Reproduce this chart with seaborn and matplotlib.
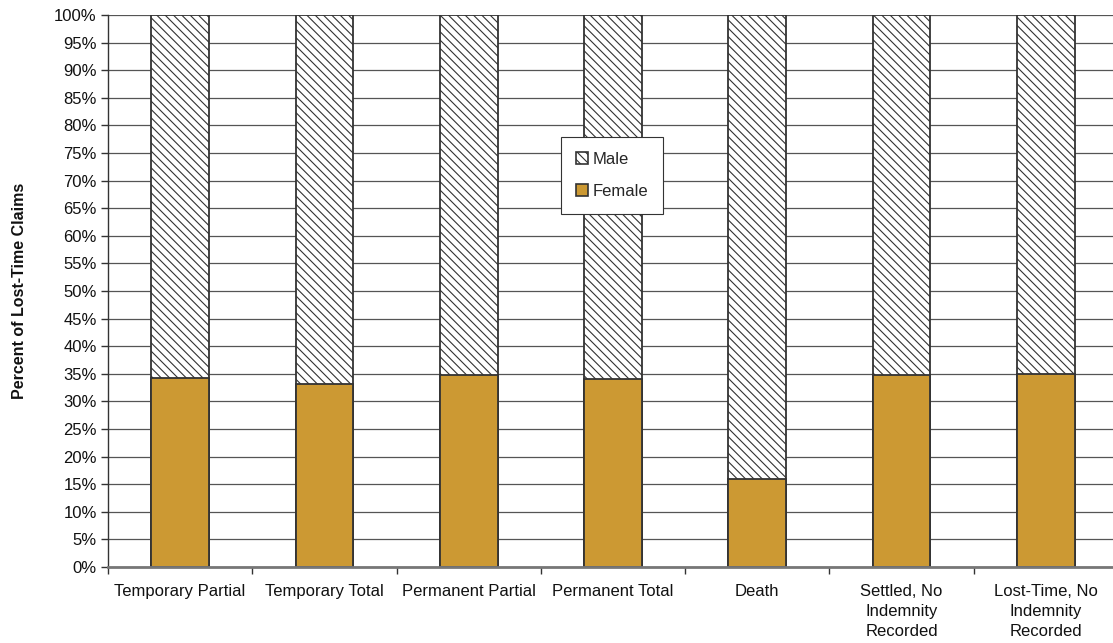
import matplotlib
matplotlib.use("Agg")
import matplotlib.pyplot as plt
import matplotlib.ticker as mticker
from matplotlib.patches import Patch
import seaborn as sns
import pandas as pd

categories = [
    "Temporary Partial",
    "Temporary Total",
    "Permanent Partial",
    "Permanent Total",
    "Death",
    "Settled, No\nIndemnity\nRecorded",
    "Lost-Time, No\nIndemnity\nRecorded",
]
female_pct = [34.2, 33.2, 34.8, 34.1, 15.9, 34.8, 34.9]
male_pct = [100 - f for f in female_pct]

df = pd.DataFrame({
    "category": categories,
    "Female": female_pct,
    "Male": male_pct,
})
df["Total"] = df["Female"] + df["Male"]

sns.set_theme(style="white")
plt.rcParams["font.family"] = ["Liberation Sans", "DejaVu Sans"]
plt.rcParams["hatch.color"] = "#555555"
plt.rcParams["hatch.linewidth"] = 0.8

GOLD = "#CC9933"
EDGE = "#333333"
FS = 12

fig = plt.figure(figsize=(11.13, 6.43), dpi=100)
ax = fig.add_axes([0.097, 0.1182, 0.9075, 0.8585])

ax.set_axisbelow(True)
ax.yaxis.grid(True, color="#555555", linewidth=0.9)
ax.xaxis.grid(False)

# Male stacked on top of female: draw the full column hatched, then female over it
sns.barplot(data=df, x="category", y="Total", color="white", width=0.4,
            edgecolor=EDGE, linewidth=1.3, hatch="\\\\\\\\", ax=ax,
            saturation=1)
sns.barplot(data=df, x="category", y="Female", color=GOLD, width=0.4,
            edgecolor=EDGE, linewidth=1.3, ax=ax, saturation=1)

ax.set_xlim(-0.5, len(categories) - 0.5)
ax.set_ylim(0, 100)
ax.yaxis.set_major_locator(mticker.MultipleLocator(5))
ax.yaxis.set_major_formatter(mticker.FuncFormatter(lambda v, p: f"{v:.0f}%"))

# x tick marks sit between categories; labels centred under each bar
ax.set_xticks([i - 0.5 for i in range(len(categories) + 1)])
ax.set_xticklabels([])
ax.set_xticks(range(len(categories)), minor=True)
ax.set_xticklabels(categories, minor=True, fontsize=FS, color="#111111",
                   linespacing=1.45)
ax.tick_params(axis="x", which="major", direction="out", length=5,
               width=1, color="#333333", bottom=True)
ax.tick_params(axis="x", which="minor", length=0, pad=12)
ax.tick_params(axis="y", direction="out", length=5, width=1,
               color="#333333", left=True, labelsize=FS, labelcolor="#111111", pad=3)

ax.set_xlabel("")
ax.set_ylabel("Percent of Lost-Time Claims", fontsize=11.5, fontweight="bold",
              color="#111111")
ax.yaxis.set_label_coords(-0.080, 0.5)

for s in ["top", "right"]:
    ax.spines[s].set_visible(False)
ax.spines["left"].set_color("#333333")
ax.spines["left"].set_linewidth(1.0)
ax.spines["bottom"].set_color("#777777")
ax.spines["bottom"].set_linewidth(2.0)

handles = [
    Patch(facecolor="white", edgecolor=EDGE, hatch="\\\\\\\\", linewidth=1.2, label="Male"),
    Patch(facecolor=GOLD, edgecolor=EDGE, linewidth=1.2, label="Female"),
]
leg = ax.legend(handles=handles, loc="upper left", bbox_to_anchor=(0.449, 0.779),
                fontsize=FS, frameon=True, fancybox=False, edgecolor="#333333",
                handlelength=0.7, handleheight=0.7, handletextpad=0.25,
                labelspacing=1.0, borderpad=0.9, borderaxespad=0)
leg.get_frame().set_linewidth(0.8)
leg.get_frame().set_alpha(1)

fig.savefig("out.png", dpi=100)
